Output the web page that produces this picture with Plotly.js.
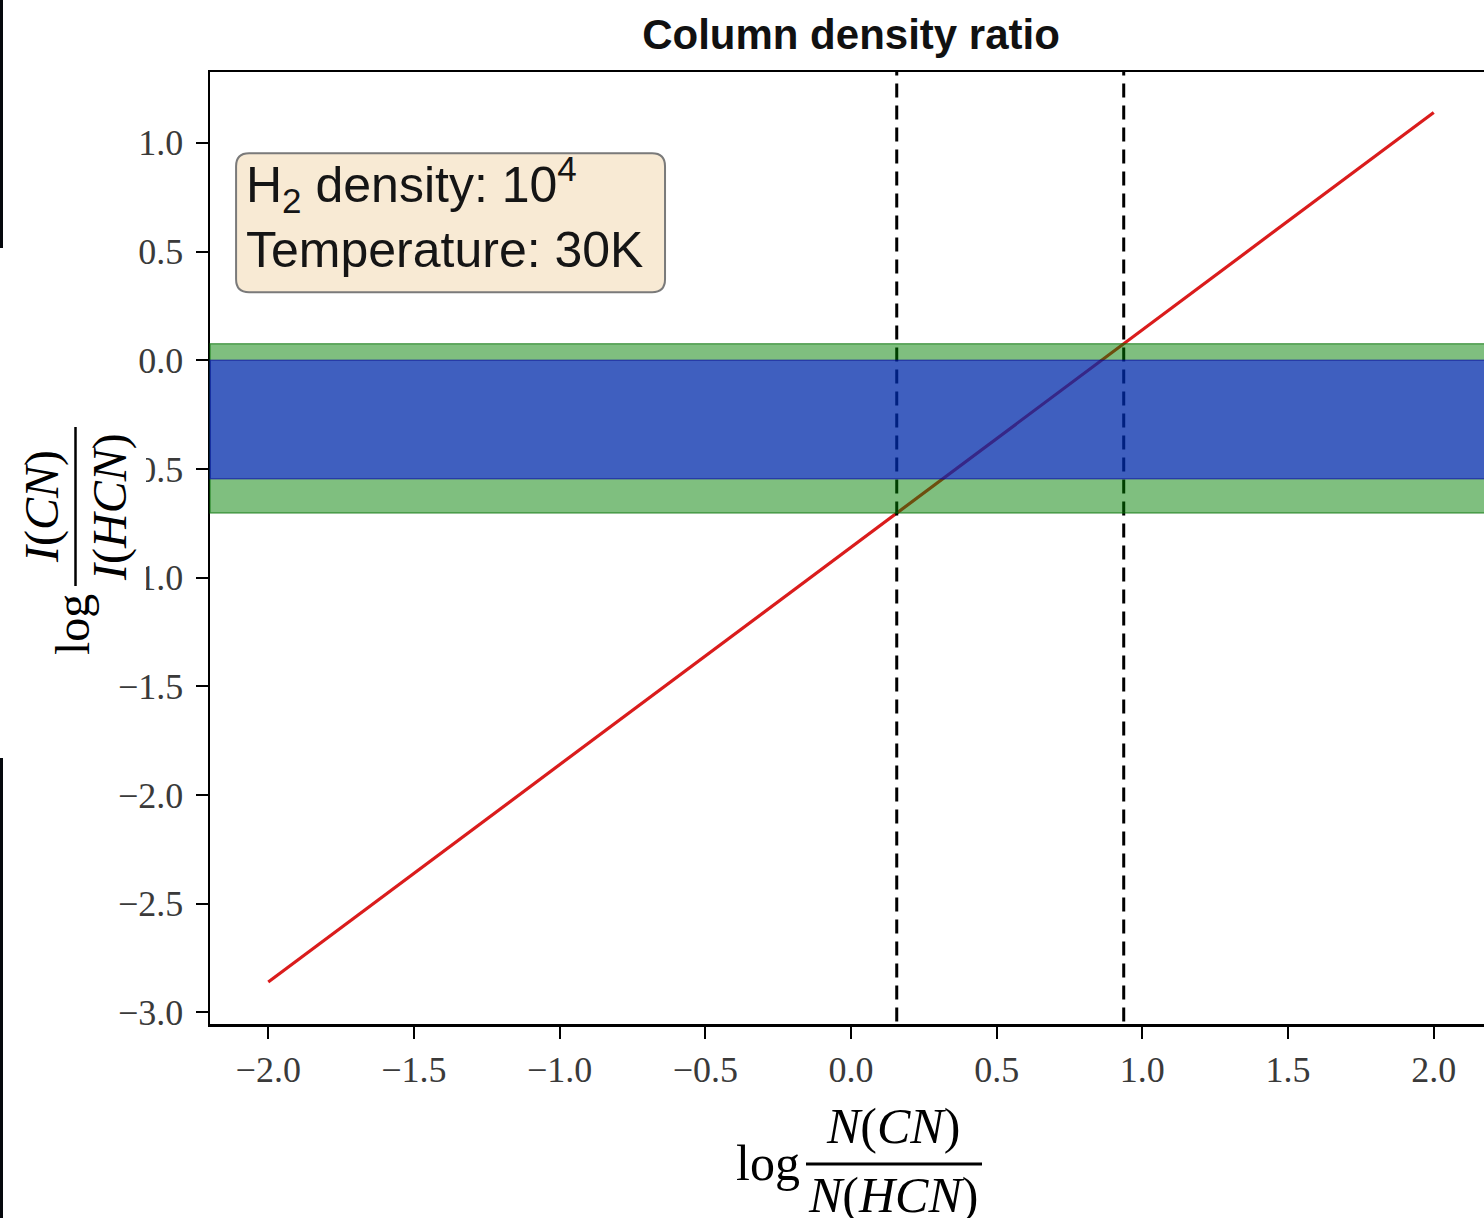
<!DOCTYPE html>
<html>
<head>
<meta charset="utf-8">
<script src="https://cdn.plot.ly/plotly-3.0.1.min.js"></script>
<style>
  html, body { margin: 0; padding: 0; background: #fff; overflow: hidden; width: 1484px; height: 1218px; }
  #chart { position: absolute; left: 0; top: 0; }
  .edge { position: absolute; left: 0; width: 3px; background: #05080d; }
</style>
</head>
<body>
<div id="chart"></div>
<div class="edge" style="top:0;height:248px;"></div>
<div class="edge" style="top:758px;height:460px;"></div>
<script>
// ---- data ----
const lineX = [-2.0, 2.0];            // log N(CN)/N(HCN)
const lineY = [-2.86, 1.14];          // log I(CN)/I(HCN)
const dashX = [0.157, 0.936];         // derived column density ratio bounds
const greenBand = [-0.703, 0.076];    // observed ratio range (outer)
const blueBand = [-0.545, 0.0];       // observed ratio range (inner)
const xTicks = [-2.0, -1.5, -1.0, -0.5, 0.0, 0.5, 1.0, 1.5, 2.0];
const yTicks = [-3.0, -2.5, -2.0, -1.5, -1.0, -0.5, 0.0, 0.5, 1.0];
const xRange = [-2.2, 2.2];
const yRange = [-3.053, 1.326];

// ---- layout geometry (pixels) ----
const W = 1500, H = 1218;
const M = {l: 210, r: 8, t: 72, b: 194};
const PW = W - M.l - M.r, PH = H - M.t - M.b;
const px = v => (v - M.l) / PW;
const py = v => 1 - (v - M.t) / PH;

const traces = [
  {x: lineX, y: lineY, mode: 'lines', line: {color: 'rgb(218,28,28)', width: 3.2}, hoverinfo: 'skip'},
];
dashX.forEach(xv => {
  traces.push({x: [xv, xv], y: [yRange[0] - 1, yRange[1] + 1], mode: 'lines',
    line: {color: '#000', width: 3, dash: '14px,8px'}, hoverinfo: 'skip'});
});

// rounded text box in data coordinates
const bx0 = (236 - 851) / 291.4, bx1 = (665 - 851) / 291.4;
const by0 = (360 - 153) / 217.5, by1 = (360 - 292) / 217.5;
const rx = 13 / 291.4, ry = 13 / 217.5;
const boxPath = `M ${bx0 + rx},${by0} L ${bx1 - rx},${by0} Q ${bx1},${by0} ${bx1},${by0 - ry} ` +
  `L ${bx1},${by1 + ry} Q ${bx1},${by1} ${bx1 - rx},${by1} L ${bx0 + rx},${by1} ` +
  `Q ${bx0},${by1} ${bx0},${by1 + ry} L ${bx0},${by0 - ry} Q ${bx0},${by0} ${bx0 + rx},${by0} Z`;

const shapes = [
  {type: 'rect', xref: 'x domain', x0: 0, x1: 1, yref: 'y', y0: greenBand[0], y1: greenBand[1],
   fillcolor: 'rgba(0,128,0,0.5)', line: {color: 'rgba(0,110,0,0.55)', width: 1.5}, layer: 'above'},
  {type: 'rect', xref: 'x domain', x0: 0, x1: 1, yref: 'y', y0: blueBand[0], y1: blueBand[1],
   fillcolor: 'rgba(0,0,255,0.5)', line: {color: 'rgba(0,0,160,0.5)', width: 1.5}, layer: 'above'},
  {type: 'path', xref: 'x', yref: 'y', path: boxPath, fillcolor: 'rgba(248,234,212,1)',
   line: {color: '#7a7a7a', width: 2}, layer: 'above'},
  // white patch behind the y-axis title (covers parts of tick labels as in the reference)
  {type: 'rect', xref: 'paper', yref: 'paper', x0: px(12), x1: px(146), y0: py(600), y1: py(420),
   fillcolor: '#fff', line: {width: 0}, layer: 'above'},
  // fraction bars
  {type: 'line', xref: 'paper', yref: 'paper', x0: px(75.5), x1: px(75.5), y0: py(427), y1: py(586),
   line: {color: '#000', width: 2.5}, layer: 'above'},
  {type: 'line', xref: 'paper', yref: 'paper', x0: px(806), x1: px(982), y0: py(1164), y1: py(1164),
   line: {color: '#000', width: 3}, layer: 'above'},
];

const serif = 'Liberation Serif, DejaVu Serif, serif';
const annotations = [
  {xref: 'x', yref: 'y', x: (244 - 851) / 291.4, y: (360 - 213) / 217.5, xanchor: 'left', yanchor: 'middle',
   align: 'left', showarrow: false,
   text: 'H<sub>2</sub> density: 10<sup>4</sup><br>Temperature: 30K',
   font: {family: 'Liberation Sans, Arial, sans-serif', size: 50, color: '#151515'}},
  // x-axis title
  {xref: 'paper', yref: 'paper', x: px(768), y: py(1163), xanchor: 'center', yanchor: 'middle', showarrow: false,
   text: 'log', font: {family: serif, size: 50, color: '#000'}},
  {xref: 'paper', yref: 'paper', x: px(893), y: py(1126), xanchor: 'center', yanchor: 'middle', showarrow: false,
   text: '<i>N</i>(<i>CN</i>)', font: {family: serif, size: 50, color: '#000'}},
  {xref: 'paper', yref: 'paper', x: px(893), y: py(1195), xanchor: 'center', yanchor: 'middle', showarrow: false,
   text: '<i>N</i>(<i>HCN</i>)', font: {family: serif, size: 50, color: '#000'}},
  // y-axis title
  {xref: 'paper', yref: 'paper', x: px(72), y: py(625), xanchor: 'center', yanchor: 'middle', showarrow: false,
   textangle: -90, text: 'log', font: {family: serif, size: 48, color: '#000'}},
  {xref: 'paper', yref: 'paper', x: px(42), y: py(507), xanchor: 'center', yanchor: 'middle', showarrow: false,
   textangle: -90, text: '<i>I</i>(<i>CN</i>)', font: {family: serif, size: 48, color: '#000'}},
  {xref: 'paper', yref: 'paper', x: px(110), y: py(507), xanchor: 'center', yanchor: 'middle', showarrow: false,
   textangle: -90, text: '<i>I</i>(<i>HCN</i>)', font: {family: serif, size: 48, color: '#000'}},
];

const axisCommon = {
  showgrid: false, zeroline: false, showline: true, linecolor: '#000', linewidth: 2.5, mirror: true,
  ticks: 'outside', ticklen: 12, tickwidth: 2, tickcolor: '#000', tickmode: 'array', tickformat: '.1f',
  tickfont: {family: serif, size: 36, color: '#3a3a3a'}, fixedrange: true,
};

const layout = {
  width: W, height: H, margin: M, paper_bgcolor: '#fff', plot_bgcolor: '#fff', showlegend: false,
  title: {text: '<b>Column density ratio</b>', x: 0.5, xref: 'paper', xanchor: 'center',
          y: 1 - 34 / H, yref: 'container', yanchor: 'middle',
          font: {family: 'Liberation Sans, Arial, sans-serif', size: 42, color: '#111'}},
  xaxis: Object.assign({}, axisCommon, {range: xRange, tickvals: xTicks, ticklabelstandoff: 0}),
  yaxis: Object.assign({}, axisCommon, {range: yRange, tickvals: yTicks, ticklabelstandoff: 5}),
  shapes: shapes, annotations: annotations,
};

Plotly.newPlot('chart', traces, layout, {displayModeBar: false, staticPlot: true});
</script>
</body>
</html>
